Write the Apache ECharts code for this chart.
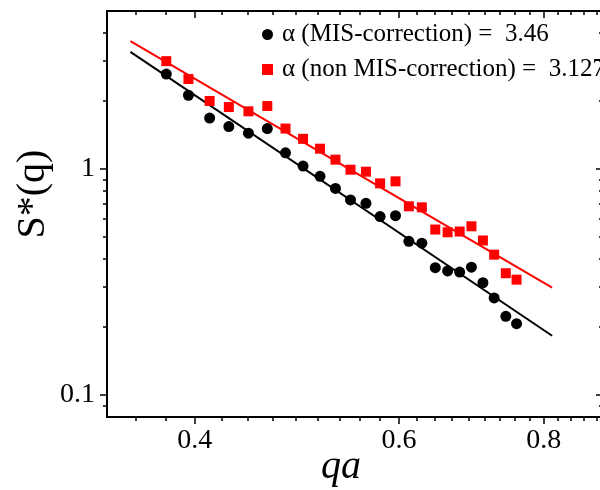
<!DOCTYPE html>
<html>
<head>
<meta charset="utf-8">
<script src="https://cdn.jsdelivr.net/npm/echarts@6/dist/echarts.min.js"></script>
<style>html,body{margin:0;padding:0;background:#fff;}#c{width:600px;height:490px;}</style>
</head>
<body>
<div id="c"></div>
<script>
// ---- data ----
const qa = [0.378,0.395,0.412,0.428,0.445,0.462,0.479,0.496,0.513,0.529,0.545,0.562,0.578,0.596,0.612,0.628,0.645,0.661,0.677,0.693,0.709,0.725,0.742,0.758];
const sMIS = [2.63,2.12,1.68,1.54,1.44,1.51,1.18,1.03,0.928,0.821,0.730,0.705,0.616,0.622,0.479,0.470,0.366,0.354,0.350,0.368,0.314,0.269,0.223,0.207];
const sNonMIS = [3.00,2.50,2.00,1.88,1.80,1.90,1.51,1.36,1.23,1.10,0.993,0.973,0.864,0.882,0.684,0.677,0.540,0.525,0.529,0.558,0.483,0.418,0.346,0.324];
const fitQa = [0.352, 0.8135];
const fitMIS = [3.30, 0.183];
const fitNonMIS = [3.68, 0.299];
const nameMIS = 'α (MIS-correction) =  3.46';
const nameNonMIS = 'α (non MIS-correction) =  3.127';
const xMajor = [0.4, 0.6, 0.8];
const yMajor = [0.1, 1];
const yMinor = [0.09,0.2,0.3,0.4,0.5,0.6,0.7,0.8,0.9,2,3,4];

// x minor ticks: 8 evenly spaced (linear) minor ticks per major step of 0.2
const xMinor = [];
for (let m = 0.2; m < 1.0; m += 0.2) {
  for (let k = 1; k <= 8; k++) xMinor.push(+(m + k * 0.2 / 9).toFixed(4));
}

const FONT = '"Liberation Serif","Times New Roman",serif';
const X_MIN = 0.336, X_MAX = 0.9, Y_MIN = 0.08, Y_MAX = 5;

function xAx(pos, ticks, len, inside, labels, extra) {
  return Object.assign({
    type: 'log', logBase: 10, min: X_MIN, max: X_MAX, position: pos,
    axisLine: { show: true, lineStyle: { color: '#000', width: 2 } },
    axisTick: { show: true, customValues: ticks, length: len, inside: inside, lineStyle: { color: '#000', width: 1.5 } },
    axisLabel: labels ? { show: true, customValues: ticks, margin: 10, color: '#000', fontFamily: FONT, fontSize: 28,
      formatter: v => String(+(+v).toPrecision(3)) } : { show: false },
    splitLine: { show: false }, minorTick: { show: false }
  }, extra || {});
}
function yAx(pos, ticks, len, inside, labels, extra) {
  return Object.assign({
    type: 'log', logBase: 10, min: Y_MIN, max: Y_MAX, position: pos,
    axisLine: { show: true, lineStyle: { color: '#000', width: 2 } },
    axisTick: { show: true, customValues: ticks, length: len, inside: inside, lineStyle: { color: '#000', width: 1.5 } },
    axisLabel: labels ? { show: true, customValues: ticks, margin: 12, color: '#000', fontFamily: FONT, fontSize: 28,
      formatter: v => String(+(+v).toPrecision(3)) } : { show: false },
    splitLine: { show: false }, minorTick: { show: false }
  }, extra || {});
}

const chart = echarts.init(document.getElementById('c'), null, { renderer: 'canvas' });
chart.setOption({
  animation: false,
  backgroundColor: '#fff',
  grid: { left: 107, top: 11, width: 496, height: 406, containLabel: false, outerBoundsMode: 'none' },
  legend: {
    data: [nameMIS, nameNonMIS],
    orient: 'vertical', left: 257, top: 17,
    itemWidth: 11, itemHeight: 11, itemGap: 10,
    textStyle: { color: '#000', fontFamily: FONT, fontSize: 25, padding: [0, 0, 0, 4] },
    selectedMode: false
  },
  xAxis: [
    xAx('bottom', xMajor, 7, false, true, {
      name: 'qa', nameLocation: 'middle', nameGap: 30, nameMoveOverlap: false,
      nameTextStyle: { fontFamily: FONT, fontSize: 40, fontStyle: 'italic', color: '#000', padding: [0, 28, 0, 0] }
    }),
    xAx('bottom', xMinor, 4, false, false),
    xAx('top', xMajor, 7, true, false),
    xAx('top', xMinor, 4, true, false)
  ],
  yAxis: [
    yAx('left', yMajor, 7, false, true, {
      name: 'S*(q)', nameLocation: 'middle', nameGap: 54, nameMoveOverlap: false,
      nameTextStyle: { fontFamily: FONT, fontSize: 40, color: '#000', padding: [0, 0, 0, 40] }
    }),
    yAx('left', yMinor, 4, false, false),
    yAx('right', yMajor, 7, true, false),
    yAx('right', yMinor, 4, true, false)
  ],
  series: [
    { type: 'line', name: 'fitMIS', data: fitQa.map((x, i) => [x, fitMIS[i]]), showSymbol: false, symbol: 'none',
      lineStyle: { color: '#000', width: 2 }, z: 2, silent: true },
    { type: 'line', name: 'fitNonMIS', data: fitQa.map((x, i) => [x, fitNonMIS[i]]), showSymbol: false, symbol: 'none',
      lineStyle: { color: '#ff0000', width: 2 }, z: 2, silent: true },
    { type: 'scatter', name: nameMIS, data: qa.map((x, i) => [x, sMIS[i]]), symbol: 'circle', symbolSize: 11,
      itemStyle: { color: '#000', opacity: 1 }, z: 3 },
    { type: 'scatter', name: nameNonMIS, data: qa.map((x, i) => [x, sNonMIS[i]]), symbol: 'rect', symbolSize: 10,
      itemStyle: { color: '#ff0000', opacity: 1 }, z: 3 }
  ]
});
</script>
</body>
</html>
